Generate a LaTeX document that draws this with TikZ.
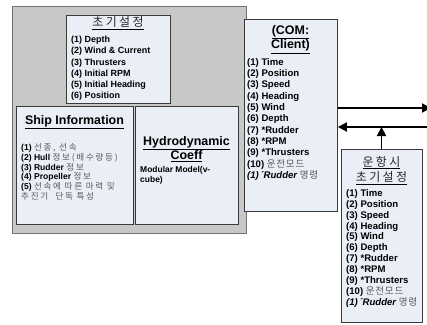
\documentclass[tikz,border=0pt]{standalone}
\usepackage{fontspec}
\setmainfont{Liberation Sans}
\newfontfamily\krfont[LetterSpace=20]{Noto Sans CJK KR}
\newfontfamily\krtight[LetterSpace=8]{Noto Sans CJK KR}
\usetikzlibrary{arrows.meta}
\definecolor{boxfill}{HTML}{E9EEF7}
\definecolor{outerfill}{HTML}{C8C8C8}
\definecolor{edge}{HTML}{3A3A3A}
\definecolor{krgray}{HTML}{5A5A5A}
\newcommand{\kr}[1]{{\krfont\mdseries\color{krgray}#1}}
\newcommand{\krt}[1]{{\krtight\mdseries\color{krgray}#1}}
\newcommand{\krh}[1]{{\krfont\mdseries\color{black!85}#1}}
\begin{document}
\begin{tikzpicture}[x=1bp,y=-1bp,
  outerbox/.style={draw=black!55, line width=0.8pt, fill=outerfill, inner sep=0, anchor=north west},
  panel/.style={draw=edge, line width=0.9pt, fill=boxfill, inner sep=0, anchor=north west},
  body/.style={font=\bfseries\fontsize{9}{11.3}\selectfont, align=left, anchor=north west, inner sep=0},
  head/.style={font=\bfseries\fontsize{12.5}{14.5}\selectfont, align=center, inner sep=0},
  link/.style={line width=1.8pt, -{Triangle[length=9bp,width=9bp]}}]
\useasboundingbox (0,0) rectangle (427,325);
\fill[white] (0,0) rectangle (427,325);
% outer gray panel
\node[outerbox, minimum width=234bp, minimum height=227bp] (outer) at (12,6) {};
% initial settings
\node[panel, minimum width=104bp, minimum height=88bp] (init) at (66,15) {};
\node[head, font=\fontsize{12}{14}\selectfont] (initH) at (118,23) {\underline{\krh{초기설정}}};
\node[body] (initB) at (71,36) {(1) Depth\\(2) Wind \& Current\\(3) Thrusters\\(4) Initial RPM\\(5) Initial Heading\\(6) Position};
% ship information
\node[panel, minimum width=117bp, minimum height=118bp] (ship) at (16,106) {};
\node[head] (shipH) at (74.5,122) {\underline{Ship Information}};
\node[body, font=\bfseries\fontsize{8.6}{9.9}\selectfont] (shipB) at (21,143) {(1) \kr{선종, 선속}\\(2) Hull \kr{정보(배수량등)}\\(3) Rudder \kr{정보}\\(4) Propeller \kr{정보}\\(5) \kr{선속에 따른 마력 및}\\\kr{추진기 \ 단독 특성}};
% hydrodynamic coeff
\node[panel, minimum width=103bp, minimum height=118bp] (hydro) at (135,106) {};
\node[head] (hydroH) at (186.5,149) {\underline{Hydrodynamic}\\\underline{Coeff}};
\node[body, font=\bfseries\fontsize{8.5}{10}\selectfont] (hydroB) at (140,166) {Modular Model(v-\\cube)};
% COM client
\node[panel, minimum width=93bp, minimum height=192bp] (com) at (244,19) {};
\node[head] (comH) at (290.5,39.5) {\underline{(COM:}\\\underline{Client)}};
\node[body, font=\bfseries\fontsize{9.6}{11.4}\selectfont] (comB) at (247,58) {(1) Time\\(2) Position\\(3) Speed\\(4) Heading\\(5) Wind\\(6) Depth\\(7) *Rudder\\(8) *RPM\\(9) *Thrusters\\(10) \krt{운전모드}\\\textit{(1)\,´Rudder \krt{명령}}};
% operation settings
\node[panel, minimum width=81bp, minimum height=173bp] (oper) at (341,149) {};
\node[head, font=\fontsize{12}{16}\selectfont] (operH) at (381.5,170.5) {\underline{\krh{운항시}}\\\underline{\krh{초기설정}}};
\node[body, font=\bfseries\fontsize{9.6}{11}\selectfont] (operB) at (346,189) {(1) Time\\(2) Position\\(3) Speed\\(4) Heading\\(5) Wind\\(6) Depth\\(7) *Rudder\\(8) *RPM\\(9) *Thrusters\\(10) \krt{운전모드}\\\textit{(1)\,´Rudder \krt{명령}}};
% connectors
\coordinate (outR) at (431,108);
\coordinate (inR) at (431,127);
\coordinate (join) at (381.5,127);
\draw[link] (com.east |- outR) -- (outR);
\draw[link] (inR) -- (com.east |- inR);
\draw[link] (oper.north -| join) -- (join);
\end{tikzpicture}
\end{document}
